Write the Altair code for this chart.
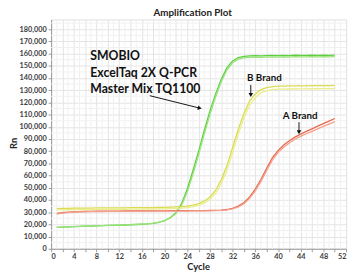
import altair as alt
import pandas as pd

cycles = list(range(1, 51))

green_1 = [17500, 17700, 17900, 18100, 18300, 18500, 18600, 18800, 18900, 19100,
           19200, 19400, 19500, 19700, 19900, 20100, 20400, 20900, 21700, 23000,
           25500, 29500, 37000, 49000, 64000, 80000, 97000, 113000, 127000, 139000,
           148500, 154000, 156800, 157800, 158200, 158300, 158100, 158400, 158500, 158300,
           158600, 158400, 158700, 158500, 158600, 158800, 158500, 158700, 158600, 158800]
green_2 = [17600, 17800, 18000, 18200, 18400, 18500, 18700, 18800, 19000, 19100,
           19300, 19400, 19600, 19800, 20000, 20200, 20500, 21000, 21800, 23100,
           25300, 28800, 35500, 46500, 61000, 77000, 94000, 110000, 124500, 137000,
           146500, 152500, 155500, 156600, 157000, 157100, 156900, 157200, 157300, 157100,
           157400, 157200, 157500, 157300, 157400, 157600, 157300, 157500, 157400, 157600]
yellow_1 = [33000, 33100, 33200, 33300, 33300, 33400, 33400, 33500, 33500, 33500,
            33600, 33600, 33600, 33700, 33700, 33700, 33800, 33800, 33900, 34000,
            34100, 34300, 34600, 35000, 35800, 37000, 39000, 42500, 48000, 56500,
            68000, 83000, 98000, 111000, 121000, 127000, 130500, 132200, 133000, 133300,
            133400, 133500, 133500, 133600, 133600, 133700, 133700, 133800, 133800, 133900]
yellow_2 = [31800, 31900, 32000, 32100, 32100, 32200, 32200, 32300, 32300, 32300,
            32400, 32400, 32400, 32500, 32500, 32500, 32600, 32600, 32700, 32800,
            32900, 33100, 33400, 33800, 34500, 35600, 37400, 40500, 45500, 53500,
            64500, 79000, 94000, 107500, 117500, 124000, 127800, 129700, 130500, 130800,
            130900, 131000, 131000, 131100, 131100, 131200, 131200, 131300, 131300, 131400]
red_1 = [29000, 29600, 30000, 30300, 30500, 30600, 30700, 30800, 30800, 30900,
         30900, 30900, 31000, 31000, 31000, 31000, 31100, 31100, 31100, 31100,
         31200, 31200, 31200, 31200, 31300, 31300, 31300, 31400, 31500, 31700,
         32200, 33200, 35000, 38000, 42500, 49000, 57000, 66000, 74500, 80500,
         85000, 88500, 91500, 94000, 96200, 98300, 100500, 102600, 104700, 106800]
red_2 = [28500, 29200, 29700, 30000, 30200, 30300, 30400, 30500, 30500, 30600,
         30600, 30600, 30700, 30700, 30700, 30700, 30800, 30800, 30800, 30800,
         30900, 30900, 30900, 30900, 31000, 31000, 31000, 31100, 31200, 31400,
         31800, 32700, 34300, 37000, 41300, 47500, 55300, 64200, 72700, 78800,
         83300, 86800, 89800, 92200, 94300, 96300, 98300, 100300, 102200, 104200]

series_names = ["SMOBIO 1", "SMOBIO 2", "B Brand 1", "B Brand 2", "A Brand 1", "A Brand 2"]
series_values = [green_1, green_2, yellow_1, yellow_2, red_1, red_2]
series_colors = ["#5ccf40", "#9be27c", "#d9dc50", "#ecee8e", "#e6694f", "#f3a08c"]

y_ticks = list(range(0, 190000, 10000))
x_ticks = list(range(0, 54, 2))
y_minor = list(range(5000, 190000, 10000))
x_minor = list(range(1, 53, 2))

note_lines = ["SMOBIO", "ExcelTaq 2X Q-PCR", "Master Mix TQ1100"]
note_cycle = [6.9, 6.9, 6.9]
note_rn = [157700, 144000, 131100]

brand_labels = ["B Brand", "A Brand"]
brand_cycle = [37.6, 43.9]
brand_rn = [140000, 108600]

arrow_x = [17.4, 35.2, 43.7]
arrow_y = [125500, 134300, 103800]
arrow_x2 = [26.2, 35.2, 43.7]
arrow_y2 = [115300, 126000, 95500]
arrow_shape = ["triangle-right", "triangle-down", "triangle-down"]
arrow_angle = [14, 0, 0]

rows = []
for name, vals in zip(series_names, series_values):
    for c, v in zip(cycles, vals):
        rows.append({"series": name, "cycle": c, "rn": v})
df = pd.DataFrame(rows)

xs = alt.Scale(domain=[0, 52], nice=False, zero=False)
ys = alt.Scale(domain=[0, 188000], nice=False)

FONT = "Lato"

x_axis = alt.Axis(values=x_ticks, grid=True, gridColor="#e3e3e3", domainColor="#9a9a9a",
                  tickColor="#9a9a9a", tickSize=3, labelFontSize=7.5, labelFont=FONT,
                  labelFontWeight="bold", labelColor="#404040", labelPadding=1,
                  titleFont=FONT, titleFontSize=9.5, titleFontWeight="bold", titleColor="#222222",
                  titleY=18, titleBaseline="middle", titleX=150)
y_axis = alt.Axis(values=y_ticks, labelExpr="format(datum.value, ',')", grid=True, gridColor="#e3e3e3",
                  domainColor="#9a9a9a", tickColor="#9a9a9a", tickSize=3,
                  labelFontSize=7.5, labelFont=FONT, labelFontWeight="bold",
                  labelColor="#404040", labelPadding=2,
                  titleFont=FONT, titleFontSize=9.5, titleFontWeight="bold", titleColor="#222222",
                  titleX=-38, titleY=126, titleAngle=270, titleBaseline="middle",
                  titleAlign="center")

X = lambda f: alt.X(f, scale=xs, axis=x_axis, title="Cycle")
Y = lambda f: alt.Y(f, scale=ys, axis=y_axis, title="Rn")

minor_x = alt.Chart(pd.DataFrame({"c": x_minor})).mark_rule(color="#f1f1f1", strokeWidth=1).encode(
    x=X("c:Q"))
minor_y = alt.Chart(pd.DataFrame({"v": y_minor})).mark_rule(color="#f1f1f1", strokeWidth=1).encode(
    y=Y("v:Q"))

lines = alt.Chart(df).mark_line(strokeWidth=1.3).encode(
    x=X("cycle:Q"),
    y=Y("rn:Q"),
    color=alt.Color("series:N", scale=alt.Scale(domain=series_names, range=series_colors), legend=None),
    detail="series:N",
    order=alt.Order("cycle:Q"),
)

notes = alt.Chart(pd.DataFrame({"t": note_lines, "c": note_cycle, "v": note_rn})).mark_text(
    align="left", baseline="middle", font=FONT, fontSize=12.5, fontWeight="bold", color="#111111"
).encode(x=X("c:Q"), y=Y("v:Q"), text="t:N")

brands = alt.Chart(pd.DataFrame({"t": brand_labels, "c": brand_cycle, "v": brand_rn})).mark_text(
    align="center", baseline="middle", font=FONT, fontSize=10, fontWeight="bold", color="#111111"
).encode(x=X("c:Q"), y=Y("v:Q"), text="t:N")

adf = pd.DataFrame({"x": arrow_x, "y": arrow_y, "x2": arrow_x2, "y2": arrow_y2,
                    "shape": arrow_shape, "angle": arrow_angle})
arrow_lines = alt.Chart(adf).mark_rule(color="#111111", strokeWidth=1).encode(
    x=X("x:Q"), y=Y("y:Q"), x2="x2:Q", y2="y2:Q")
arrow_heads = alt.Chart(adf).mark_point(filled=True, color="#111111", size=22, opacity=1).encode(
    x=X("x2:Q"), y=Y("y2:Q"),
    shape=alt.Shape("shape:N", scale=None), angle=alt.Angle("angle:Q", scale=None))

chart = alt.layer(minor_x, minor_y, lines, notes, brands, arrow_lines, arrow_heads).properties(
    width=301, height=234,
    title=alt.TitleParams("Amplification Plot", font=FONT, fontSize=10, fontWeight="bold",
                          color="#222222", anchor="middle", dx=-6, offset=1),
    autosize=alt.AutoSizeParams(type="none"),
    padding={"left": 44, "top": 9, "right": 4, "bottom": 21},
).configure_view(stroke="#d6d6d6").configure(background="white")

chart.save("out.html", embed_options={"renderer": "svg", "actions": False})
